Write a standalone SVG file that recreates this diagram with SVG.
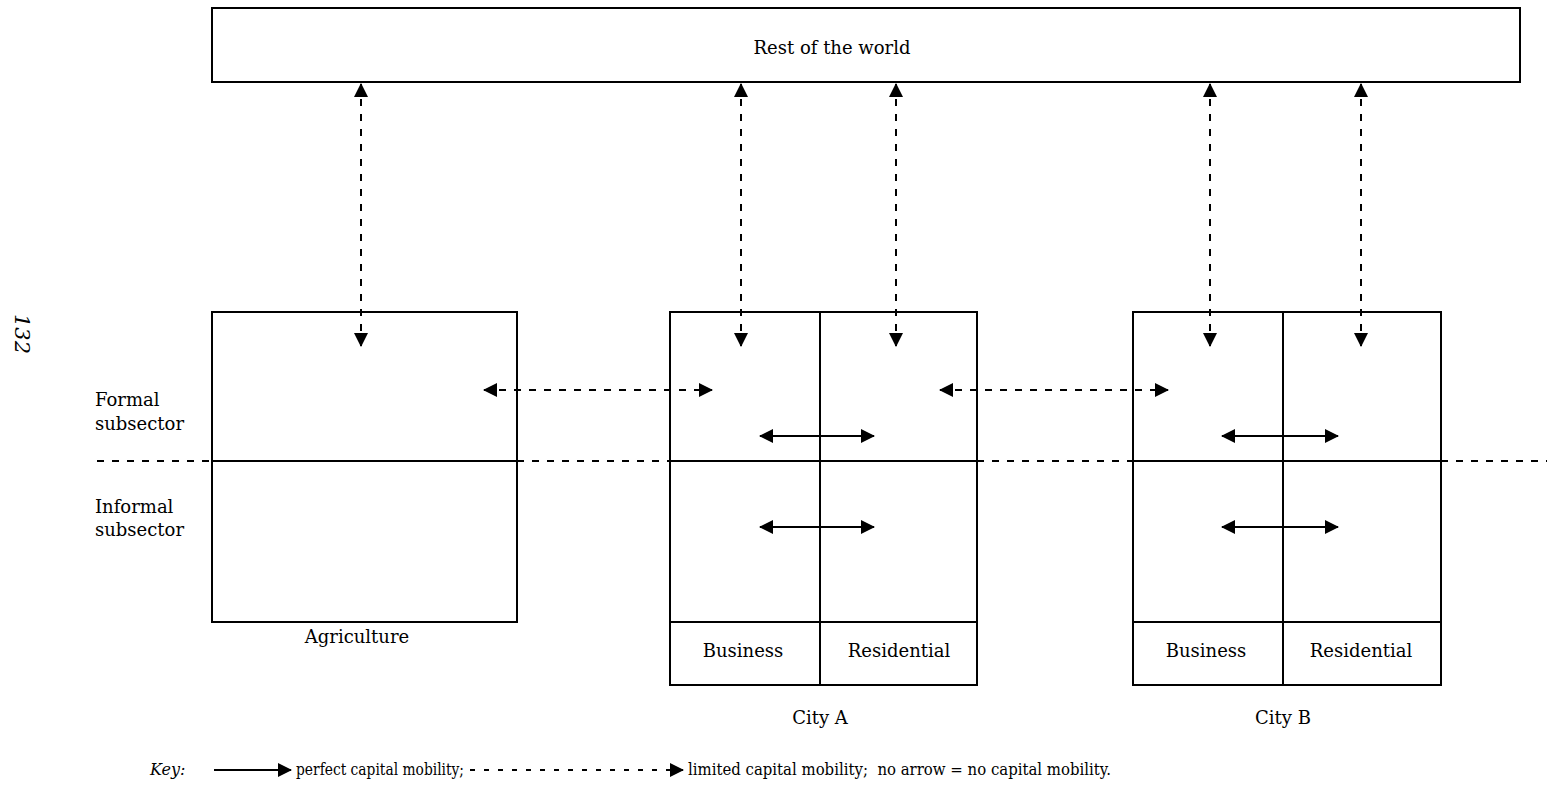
<svg xmlns="http://www.w3.org/2000/svg" width="1547" height="791" viewBox="0 0 1547 791">
<defs>
<style>
.box{fill:#fff;stroke:#000;stroke-width:2}
.ln{stroke:#000;stroke-width:2;fill:none}
.dash{stroke:#000;stroke-width:2;fill:none;stroke-dasharray:7 8}
.t{font-family:"DejaVu Serif","Liberation Serif",serif;font-size:18px;fill:#000}
.k{font-family:"DejaVu Serif","Liberation Serif",serif;font-size:16px;fill:#000}
.it{font-style:italic}
</style>
<marker id="ah" viewBox="0 0 14 14" refX="13" refY="7" markerWidth="14" markerHeight="14" markerUnits="userSpaceOnUse" orient="auto-start-reverse">
<path d="M0,0 L14,7 L0,14 Z" fill="#000"/>
</marker>
</defs>
<rect width="1547" height="791" fill="#fff"/>
<text class="t it" transform="translate(15,314) rotate(90)" style="font-size:21px">132</text>
<g id="world">
<rect class="box" x="212" y="8" width="1308" height="74"/>
<text class="t" x="832" y="54" text-anchor="middle">Rest of the world</text>
</g>
<g id="labels">
<text class="t" x="95" y="406">Formal</text>
<text class="t" x="95" y="430">subsector</text>
<text class="t" x="95" y="513">Informal</text>
<text class="t" x="95" y="536">subsector</text>
</g>
<g id="agriculture">
<rect class="box" x="212" y="312" width="305" height="310"/>
<line class="ln" x1="212" y1="461" x2="517" y2="461"/>
<text class="t" x="357" y="643" text-anchor="middle">Agriculture</text>
</g>
<g id="cityA">
<rect class="box" x="670" y="312" width="307" height="373"/>
<line class="ln" x1="820" y1="312" x2="820" y2="685"/>
<line class="ln" x1="670" y1="461" x2="977" y2="461"/>
<line class="ln" x1="670" y1="622" x2="977" y2="622"/>
<text class="t" x="743" y="657" text-anchor="middle">Business</text>
<text class="t" x="899" y="657" text-anchor="middle">Residential</text>
<text class="t" x="820" y="724" text-anchor="middle">City A</text>
</g>
<g id="cityB">
<rect class="box" x="1133" y="312" width="308" height="373"/>
<line class="ln" x1="1283" y1="312" x2="1283" y2="685"/>
<line class="ln" x1="1133" y1="461" x2="1441" y2="461"/>
<line class="ln" x1="1133" y1="622" x2="1441" y2="622"/>
<text class="t" x="1206" y="657" text-anchor="middle">Business</text>
<text class="t" x="1361" y="657" text-anchor="middle">Residential</text>
<text class="t" x="1283" y="724" text-anchor="middle">City B</text>
</g>
<g id="connectors">
<line class="dash" x1="97" y1="461" x2="212" y2="461"/>
<line class="dash" x1="517" y1="461" x2="670" y2="461"/>
<line class="dash" x1="977" y1="461" x2="1133" y2="461"/>
<line class="dash" x1="1441" y1="461" x2="1547" y2="461"/>
<line class="dash" x1="361" y1="84" x2="361" y2="346" marker-start="url(#ah)" marker-end="url(#ah)"/>
<line class="dash" x1="741" y1="84" x2="741" y2="346" marker-start="url(#ah)" marker-end="url(#ah)"/>
<line class="dash" x1="896" y1="84" x2="896" y2="346" marker-start="url(#ah)" marker-end="url(#ah)"/>
<line class="dash" x1="1210" y1="84" x2="1210" y2="346" marker-start="url(#ah)" marker-end="url(#ah)"/>
<line class="dash" x1="1361" y1="84" x2="1361" y2="346" marker-start="url(#ah)" marker-end="url(#ah)"/>
<line class="dash" x1="484" y1="390" x2="712" y2="390" marker-start="url(#ah)" marker-end="url(#ah)"/>
<line class="dash" x1="940" y1="390" x2="1168" y2="390" marker-start="url(#ah)" marker-end="url(#ah)"/>
<line class="ln" x1="760" y1="436" x2="874" y2="436" marker-start="url(#ah)" marker-end="url(#ah)"/>
<line class="ln" x1="760" y1="527" x2="874" y2="527" marker-start="url(#ah)" marker-end="url(#ah)"/>
<line class="ln" x1="1222" y1="436" x2="1338" y2="436" marker-start="url(#ah)" marker-end="url(#ah)"/>
<line class="ln" x1="1222" y1="527" x2="1338" y2="527" marker-start="url(#ah)" marker-end="url(#ah)"/>
</g>
<g id="key">
<text class="k it" x="150" y="775">Key:</text>
<line class="ln" x1="214" y1="770" x2="291" y2="770" stroke-width="1.5" marker-end="url(#ah)"/>
<text class="k" x="296" y="775" textLength="168" lengthAdjust="spacingAndGlyphs">perfect capital mobility;</text>
<line class="dash" x1="470" y1="770" x2="683" y2="770" stroke-width="1.5" marker-end="url(#ah)" style="stroke-dasharray:5 9"/>
<text class="k" x="688" y="775" xml:space="preserve" textLength="423" lengthAdjust="spacingAndGlyphs">limited capital mobility;  no arrow = no capital mobility.</text>
</g>
</svg>
